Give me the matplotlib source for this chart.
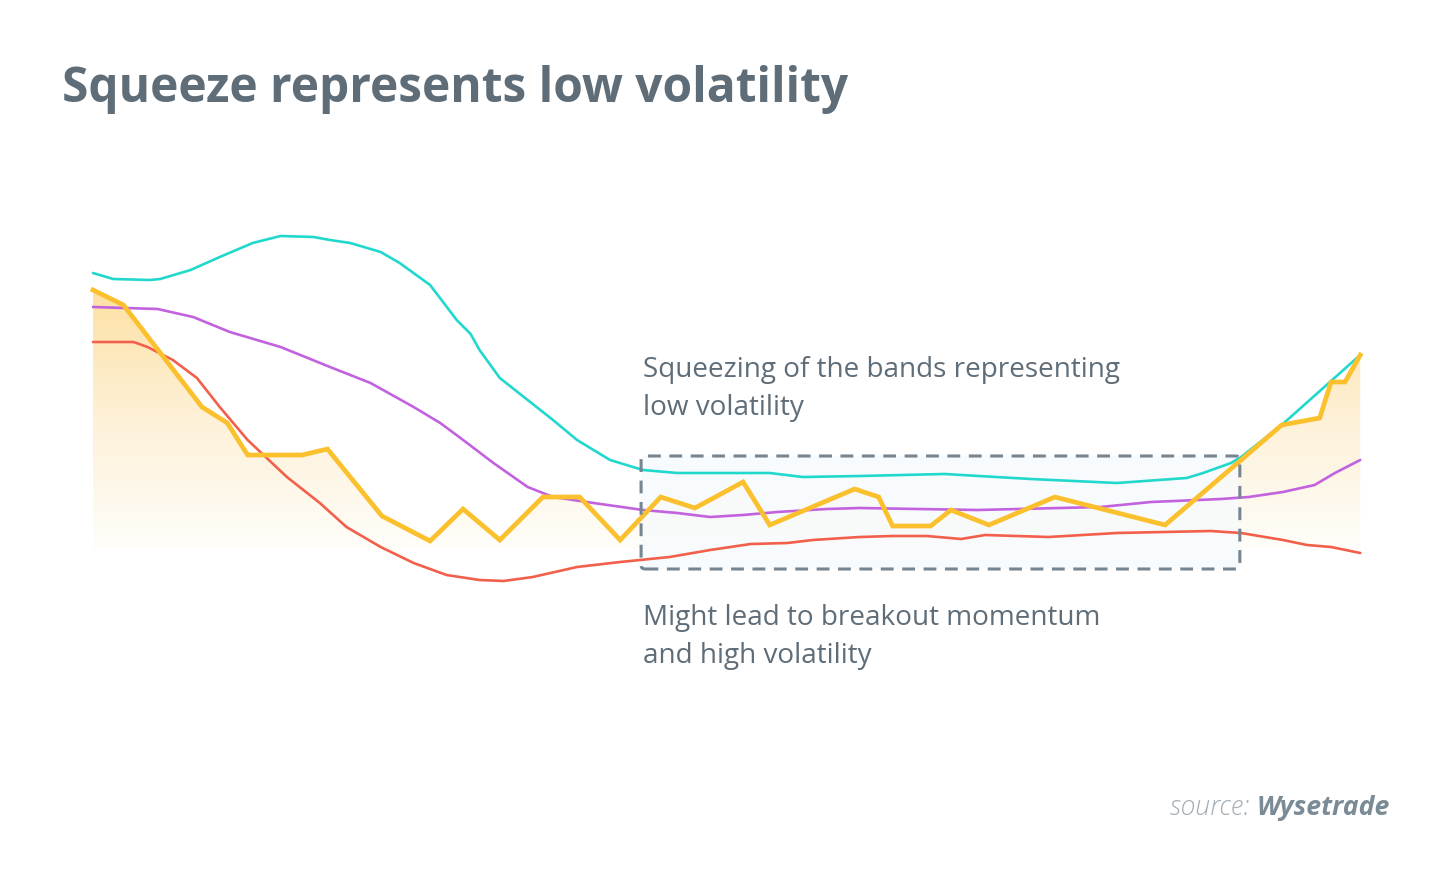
import numpy as np
import matplotlib.pyplot as plt
from matplotlib.patches import FancyBboxPatch
from matplotlib.colors import LinearSegmentedColormap

# price series (arbitrary units) against time (days)
price_t = [0, 2.4, 8.6, 10.6, 12.2, 16.5, 18.5, 22.8, 26.6, 29.2, 32.1, 35.5, 38.4,
           41.6, 44.8, 47.5, 51.3, 53.4, 60.1, 62.0, 63.1, 66.1, 67.7, 70.7, 75.9,
           84.6, 90.6, 93.8, 96.8, 97.7, 98.8, 100]
price = [31.0, 29.5, 19.3, 17.7, 14.5, 14.5, 15.1, 8.4, 5.9, 9.1, 6.0, 10.3, 10.3,
         6.0, 10.3, 9.2, 11.8, 7.5, 11.1, 10.3, 7.4, 7.4, 9.0, 7.5, 10.3,
         7.5, 14.0, 17.5, 18.2, 21.8, 21.8, 24.5]

upper_t = [0, 1.6, 4.5, 5.3, 7.7, 10.0, 12.6, 14.8, 17.4, 18.7, 20.3, 22.7, 24.2,
           26.6, 28.7, 29.8, 30.5, 32.1, 34.3, 36.3, 38.2, 40.8, 43.4, 46.1, 53.4, 56.0,
           60.5, 67.2, 74.0, 80.8, 86.3, 87.6, 89.8, 90.6, 93.8, 100]
upper = [32.7, 32.1, 32.0, 32.1, 33.0, 34.3, 35.7, 36.4, 36.3, 36.0, 35.7, 34.8, 33.7,
         31.5, 28.0, 26.6, 25.0, 22.2, 20.0, 18.0, 16.0, 14.0, 13.0, 12.7, 12.7, 12.3,
         12.4, 12.6, 12.1, 11.7, 12.2, 12.7, 13.7, 14.3, 17.5, 24.5]

middle_t = [0, 5.1, 7.9, 10.8, 14.8, 18.7, 21.9, 25.3, 27.4, 29.0, 31.6, 34.3, 36.3,
            39.5, 43.4, 46.1, 48.7, 51.3, 54.0, 57.9, 60.5, 69.8, 79.5, 83.5, 89.0,
            91.2, 93.9, 96.4, 98.0, 100]
middle = [29.3, 29.1, 28.3, 26.8, 25.3, 23.3, 21.7, 19.3, 17.7, 16.2, 13.7, 11.3, 10.3,
          9.7, 9.0, 8.7, 8.3, 8.5, 8.8, 9.1, 9.2, 9.0, 9.3, 9.8, 10.1,
          10.3, 10.8, 11.5, 12.7, 14.0]

lower_t = [0, 3.2, 4.3, 6.3, 8.2, 10.0, 12.2, 15.3, 17.9, 20.0, 22.7, 25.3, 27.9,
           30.5, 32.4, 34.7, 38.2, 41.6, 45.5, 48.7, 51.9, 54.8, 56.8, 60.5, 63.1,
           65.8, 68.5, 70.4, 75.4, 80.8, 88.2, 90.6, 93.9, 95.8, 97.7, 100]
lower = [25.8, 25.8, 25.3, 24.0, 22.2, 19.3, 16.0, 12.3, 9.7, 7.3, 5.3, 3.7, 2.5,
         2.0, 1.9, 2.3, 3.3, 3.8, 4.3, 5.0, 5.6, 5.7, 6.0, 6.3, 6.4,
         6.4, 6.1, 6.5, 6.3, 6.7, 6.9, 6.7, 6.0, 5.5, 5.3, 4.7]

fill_base = 5.0
squeeze_start, squeeze_end = 43.25, 90.5
squeeze_low, squeeze_high = 3.1, 14.4

text_color = '#5f6d78'

fig = plt.figure(figsize=(14.54, 8.89), dpi=100)
ax = fig.add_axes([0, 0, 1, 1])
ax.set_xlim(-7.34, 107.4)
ax.set_ylim(-28.9, 60)
ax.axis('off')

# gradient fill under the price line
poly = ax.fill_between(price_t, price, fill_base, color='none', lw=0)
grad = np.linspace(0, 1, 256).reshape(-1, 1)
cmap = LinearSegmentedColormap.from_list('fade', ['#fffefa', '#fdf1d8', '#fde1a4'])
img = ax.imshow(grad, cmap=cmap, origin='lower', aspect='auto',
                extent=[0, 100, fill_base, max(price)], zorder=1)
img.set_clip_path(poly.get_paths()[0], transform=ax.transData)

# squeeze area
ax.add_patch(FancyBboxPatch((squeeze_start, squeeze_low), squeeze_end - squeeze_start,
                            squeeze_high - squeeze_low,
                            boxstyle='round,pad=0,rounding_size=0.35',
                            facecolor='#f6fafd', alpha=0.75, edgecolor='none', zorder=2))

line_kw = dict(lw=1.9, zorder=3, solid_joinstyle='round', solid_capstyle='round')
ax.plot(upper_t, upper, color='#22d8cc', **line_kw)
ax.plot(middle_t, middle, color='#c262de', **line_kw)
ax.plot(lower_t, lower, color='#f2604c', **line_kw)
ax.plot(price_t, price, color='#fbc02d', lw=3.4, zorder=4, solid_joinstyle='miter')

ax.add_patch(FancyBboxPatch((squeeze_start, squeeze_low), squeeze_end - squeeze_start,
                            squeeze_high - squeeze_low,
                            boxstyle='round,pad=0,rounding_size=0.35',
                            facecolor='none', edgecolor='#76858f', lw=2.2,
                            linestyle=(0, (4.2, 2.8)), zorder=5))

# texts
fig.text(62 / 1454, 1 - 102 / 889, 'Squeeze represents low volatility',
         fontfamily='Open Sans', fontweight='bold', fontsize=34.5,
         color=text_color, va='baseline', ha='left')

ann_kw = dict(fontfamily='Open Sans', fontsize=20.1, color=text_color, va='baseline')
fig.text(643 / 1454, 1 - 377 / 889, 'Squeezing of the bands representing', **ann_kw)
fig.text(643 / 1454, 1 - 415 / 889, 'low volatility', **ann_kw)
fig.text(643 / 1454, 1 - 625 / 889, 'Might lead to breakout momentum', **ann_kw)
fig.text(643 / 1454, 1 - 663 / 889, 'and high volatility', **ann_kw)

src = fig.text(1390 / 1454, 1 - 815 / 889, 'Wysetrade', fontfamily='Open Sans',
               fontweight='bold', fontstyle='italic', fontsize=19.2,
               color='#7b8b96', va='baseline', ha='right')
r = fig.canvas.get_renderer()
bb = src.get_window_extent(renderer=r)
fig.text(bb.x0 / fig.bbox.width, 1 - 815 / 889, 'source: ', fontfamily='Open Sans',
         fontweight='light', fontstyle='italic', fontsize=19.2,
         color='#a3adb5', va='baseline', ha='right')

fig.savefig('out.png', dpi=100, facecolor='white')
